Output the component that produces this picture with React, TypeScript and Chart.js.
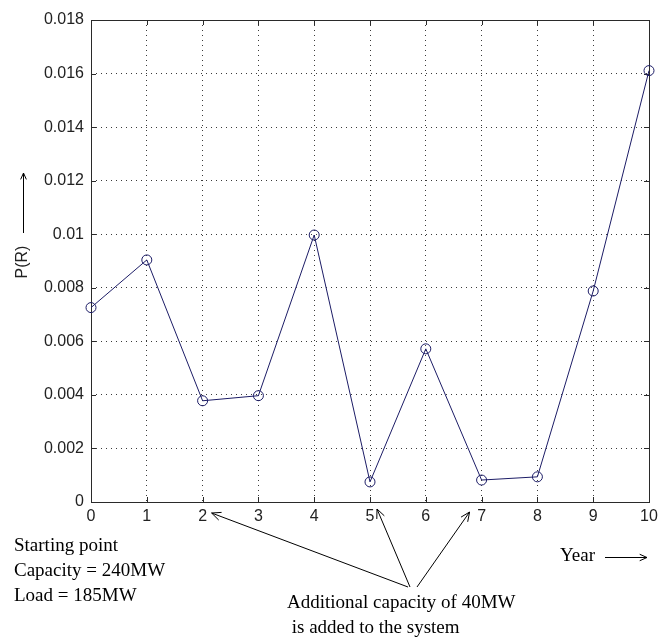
import React, { useEffect, useRef } from 'react';
import { Chart, registerables } from 'chart.js';

Chart.register(...registerables);

const years = [0, 1, 2, 3, 4, 5, 6, 7, 8, 9, 10];
const pValues = [0.00726, 0.00904, 0.00378, 0.00397, 0.00997, 0.00075, 0.00572, 0.00082, 0.00094, 0.00788, 0.01611];
const yTickLabels = ['0', '0.002', '0.004', '0.006', '0.008', '0.01', '0.012', '0.014', '0.016', '0.018'];
const xTickLabels = ['0', '1', '2', '3', '4', '5', '6', '7', '8', '9', '10'];
const startNote = ['Starting point', 'Capacity = 240MW', 'Load = 185MW'];
const addNote = ['Additional capacity of 40MW', ' is added to the system'];
const addedYears = [2, 5, 7];
const xTitle = 'Year';
const yTitle = 'P(R)';

const SERIF = '"Liberation Serif", "Times New Roman", serif';
const SANS = '"Liberation Sans", Arial, sans-serif';

function arrow(ctx: CanvasRenderingContext2D, x1: number, y1: number, x2: number, y2: number, head = 9) {
  ctx.beginPath();
  ctx.moveTo(x1, y1);
  ctx.lineTo(x2, y2);
  const ang = Math.atan2(y2 - y1, x2 - x1);
  const spread = 0.42;
  ctx.moveTo(x2, y2);
  ctx.lineTo(x2 - head * Math.cos(ang - spread), y2 - head * Math.sin(ang - spread));
  ctx.moveTo(x2, y2);
  ctx.lineTo(x2 - head * Math.cos(ang + spread), y2 - head * Math.sin(ang + spread));
  ctx.stroke();
}

const overlay = {
  id: 'overlay',
  beforeDatasetsDraw(chart: any) {
    const { ctx, chartArea: a, scales } = chart;
    ctx.save();
    ctx.strokeStyle = '#2a2a2a';
    ctx.lineWidth = 1;
    ctx.strokeRect(Math.round(a.left) + 0.5, Math.round(a.top) + 0.5, Math.round(a.right - a.left), Math.round(a.bottom - a.top));
    ctx.beginPath();
    scales.x.ticks.forEach((t: any) => {
      const px = Math.round(scales.x.getPixelForValue(t.value)) + 0.5;
      ctx.moveTo(px, a.bottom);
      ctx.lineTo(px, a.bottom - 5);
      ctx.moveTo(px, a.top);
      ctx.lineTo(px, a.top + 5);
    });
    scales.y.ticks.forEach((t: any) => {
      const py = Math.round(scales.y.getPixelForValue(t.value)) + 0.5;
      ctx.moveTo(a.left, py);
      ctx.lineTo(a.left + 5, py);
      ctx.moveTo(a.right, py);
      ctx.lineTo(a.right - 5, py);
    });
    ctx.stroke();
    ctx.restore();
  },
  afterDraw(chart: any) {
    const { ctx, scales } = chart;
    ctx.save();
    ctx.fillStyle = '#000';
    ctx.strokeStyle = '#000';
    ctx.lineWidth = 1;

    // y title with arrow
    ctx.save();
    ctx.translate(23, 262);
    ctx.rotate(-Math.PI / 2);
    ctx.font = `16px ${SANS}`;
    ctx.textAlign = 'center';
    ctx.textBaseline = 'middle';
    ctx.fillStyle = '#222';
    ctx.fillText(yTitle, 0, 0);
    ctx.restore();
    arrow(ctx, 23.5, 233, 23.5, 173, 7);

    // starting note
    ctx.font = `19px ${SERIF}`;
    ctx.textAlign = 'left';
    ctx.textBaseline = 'middle';
    startNote.forEach((s, i) => ctx.fillText(s, 14, 546 + i * 25));

    // Year label
    ctx.fillText(xTitle, 560, 556);
    arrow(ctx, 605, 557.5, 647, 557.5, 8);

    // added capacity note
    ctx.fillText(addNote[0], 287, 603);
    ctx.fillText(addNote[1], 287, 628);

    // arrows to years
    const offs = [9, 7, -12];
    const heads = [513, 509, 512];
    const tails = [408, 410, 417];
    addedYears.forEach((yr, i) => {
      const hx = scales.x.getPixelForValue(yr) + offs[i];
      arrow(ctx, tails[i], 587, hx, heads[i], 10);
    });
    ctx.restore();
  },
};

export default function App() {
  const ref = useRef<HTMLCanvasElement | null>(null);
  useEffect(() => {
    document.body.style.margin = '0';
    if (!ref.current) return;
    const chart = new Chart(ref.current, {
      type: 'line',
      data: {
        datasets: [
          {
            data: years.map((x, i) => ({ x, y: pValues[i] })),
            borderColor: '#1c1c66',
            borderWidth: 1,
            pointStyle: 'circle',
            pointRadius: 5,
            pointBorderWidth: 1,
            pointBackgroundColor: 'rgba(0,0,0,0)',
            pointBorderColor: '#1c1c66',
            tension: 0,
            clip: false,
          } as any,
        ],
      },
      options: {
        animation: false,
        responsive: true,
        maintainAspectRatio: false,
        layout: { padding: { left: 0, top: 20, right: 18, bottom: 99 } },
        plugins: { legend: { display: false }, tooltip: { enabled: false } },
        scales: {
          x: {
            type: 'linear',
            min: 0,
            max: 10,
            afterFit: (s: any) => { s.height = 40; },
            ticks: {
              stepSize: 1,
              padding: 5,
              color: '#222',
              font: { family: SANS, size: 16 },
              callback: (v: any, i: number) => xTickLabels[i],
              maxRotation: 0,
            },
            grid: { color: '#3a3a3a', lineWidth: 1, drawTicks: false },
            border: { display: false, dash: [1, 4] },
          },
          y: {
            min: 0,
            max: 0.018,
            afterFit: (s: any) => { s.width = 91; },
            ticks: {
              stepSize: 0.002,
              padding: 7,
              color: '#222',
              font: { family: SANS, size: 16 },
              callback: (v: any, i: number) => yTickLabels[i],
            },
            grid: { color: '#3a3a3a', lineWidth: 1, drawTicks: false },
            border: { display: false, dash: [1, 4] },
          },
        },
      },
      plugins: [overlay],
    });
    return () => chart.destroy();
  }, []);
  return (
    <div style={{ position: 'absolute', left: 0, top: 0, width: 667, height: 641 }}>
      <canvas ref={ref} />
    </div>
  );
}
